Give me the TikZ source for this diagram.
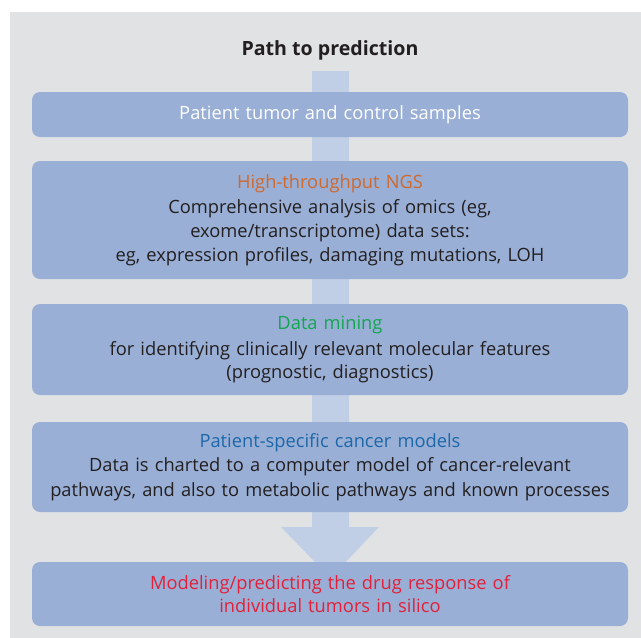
\documentclass[tikz,border=0pt]{standalone}
\usepackage{fontspec}
\setmainfont{Open Sans}
\definecolor{bgc}{HTML}{E1E2E4}
\definecolor{boxc}{HTML}{99AFD6}
\definecolor{shaftc}{HTML}{C1CFE6}
\definecolor{txtc}{HTML}{231F20}
\definecolor{orc}{HTML}{D0692D}
\definecolor{grc}{HTML}{12A650}
\definecolor{blc}{HTML}{1C68A8}
\definecolor{rdc}{HTML}{E3203A}
\begin{document}
\begin{tikzpicture}[x=1pt,y=-1pt,
  stagebox/.style={fill=boxc, rounded corners=8pt, minimum width=596pt, text width=594pt,
    align=center, inner sep=0pt, text=txtc, font=\fontsize{18.3}{24.5}\selectfont},
  titlelbl/.style={text=txtc, font=\bfseries\fontsize{19.6}{22}\selectfont}]
\useasboundingbox (0,0) rectangle (641,638);
\fill[bgc] (10,12) rectangle (641,638);
\node[titlelbl] (title) at (330,50.5) {Path to prediction};
% background arrow
\fill[shaftc] (312,71) -- (349,71) -- (349,527) -- (379,527) -- (330.5,578) -- (281,527) -- (312,527) -- cycle;
\node[stagebox, minimum height=45pt, text=white] (s1) at (330,114.5) {\raisebox{-2.5pt}{Patient tumor and control samples}};
\node[stagebox, minimum height=118pt] (s2) at (330,220) {\raisebox{-2pt}{\textcolor{orc}{High-throughput NGS}}\\\raisebox{-2pt}{Comprehensive analysis of omics (eg,}\\\raisebox{-2pt}{exome/transcriptome) data sets:}\\\raisebox{-1pt}{eg, expression profiles, damaging mutations, LOH}};
\node[stagebox, minimum height=91pt] (s3) at (330,349.5) {\raisebox{-2pt}{\textcolor{grc}{Data mining}}\\\raisebox{-3pt}{for identifying clinically relevant molecular features}\\\raisebox{-2pt}{(prognostic, diagnostics)}};
\node[stagebox, minimum height=90pt] (s4) at (330,467) {\raisebox{-2pt}{\textcolor{blc}{Patient-specific cancer models}}\\\raisebox{-2pt}{Data is charted to a computer model of cancer-relevant}\\\raisebox{-2pt}{pathways, and also to metabolic pathways and known processes}};
\node[stagebox, minimum height=64pt, text=rdc] (s5) at (330,594) {\raisebox{-2pt}{Modeling/predicting the drug response of}\\\raisebox{-1pt}{individual tumors in silico}};
\end{tikzpicture}
\end{document}
